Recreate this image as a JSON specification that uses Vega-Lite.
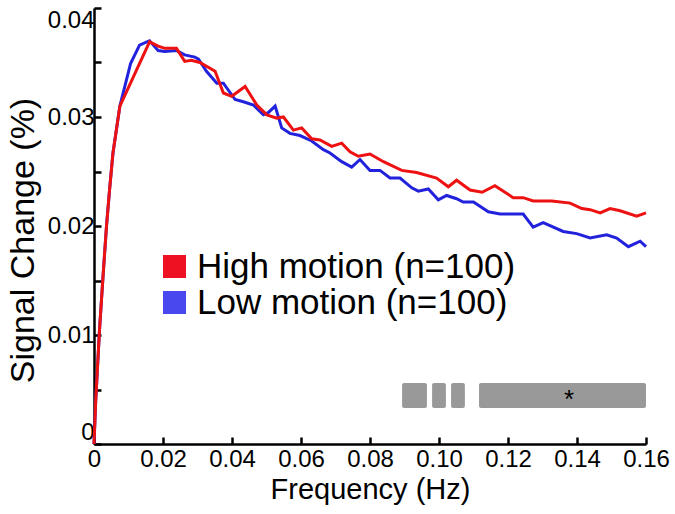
{
  "$schema": "https://vega.github.io/schema/vega-lite/v6.json",
  "width": 552,
  "height": 436,
  "autosize": {"type": "none"},
  "padding": {"left": 94, "top": 8, "right": 29, "bottom": 70},
  "background": "white",
  "config": {
    "font": "Liberation Sans",
    "view": {"stroke": null},
    "axis": {
      "grid": false,
      "domainColor": "black",
      "domainWidth": 2.5,
      "tickColor": "black",
      "tickWidth": 2.5,
      "tickSize": -7,
      "labelColor": "black",
      "titleColor": "black",
      "labelFont": "Liberation Sans",
      "titleFont": "Liberation Sans",
      "titleFontWeight": "normal",
      "labelFontSize": 24,
      "labelOverlap": false
    }
  },
  "datasets": {
    "curves": [
      {"series": "High motion (n=100)", "f": 0, "v": 0},
      {"series": "High motion (n=100)", "f": 0.0005, "v": 0.004},
      {"series": "High motion (n=100)", "f": 0.0016, "v": 0.0105},
      {"series": "High motion (n=100)", "f": 0.0026, "v": 0.0153},
      {"series": "High motion (n=100)", "f": 0.0036, "v": 0.0199},
      {"series": "High motion (n=100)", "f": 0.0045, "v": 0.0233},
      {"series": "High motion (n=100)", "f": 0.0055, "v": 0.0267},
      {"series": "High motion (n=100)", "f": 0.0075, "v": 0.031},
      {"series": "High motion (n=100)", "f": 0.0161, "v": 0.0369},
      {"series": "High motion (n=100)", "f": 0.0186, "v": 0.0365},
      {"series": "High motion (n=100)", "f": 0.0205, "v": 0.0363},
      {"series": "High motion (n=100)", "f": 0.0239, "v": 0.0363},
      {"series": "High motion (n=100)", "f": 0.0263, "v": 0.0351},
      {"series": "High motion (n=100)", "f": 0.0282, "v": 0.0352},
      {"series": "High motion (n=100)", "f": 0.0307, "v": 0.035},
      {"series": "High motion (n=100)", "f": 0.0351, "v": 0.0342},
      {"series": "High motion (n=100)", "f": 0.0375, "v": 0.0322},
      {"series": "High motion (n=100)", "f": 0.0399, "v": 0.0319},
      {"series": "High motion (n=100)", "f": 0.0438, "v": 0.0328},
      {"series": "High motion (n=100)", "f": 0.0472, "v": 0.0311},
      {"series": "High motion (n=100)", "f": 0.0501, "v": 0.0302},
      {"series": "High motion (n=100)", "f": 0.053, "v": 0.0299},
      {"series": "High motion (n=100)", "f": 0.0549, "v": 0.03},
      {"series": "High motion (n=100)", "f": 0.0578, "v": 0.0288},
      {"series": "High motion (n=100)", "f": 0.0602, "v": 0.029},
      {"series": "High motion (n=100)", "f": 0.0631, "v": 0.028},
      {"series": "High motion (n=100)", "f": 0.0655, "v": 0.0279},
      {"series": "High motion (n=100)", "f": 0.0689, "v": 0.0273},
      {"series": "High motion (n=100)", "f": 0.0718, "v": 0.0276},
      {"series": "High motion (n=100)", "f": 0.0742, "v": 0.0268},
      {"series": "High motion (n=100)", "f": 0.0766, "v": 0.0264},
      {"series": "High motion (n=100)", "f": 0.08, "v": 0.0266},
      {"series": "High motion (n=100)", "f": 0.0839, "v": 0.0259},
      {"series": "High motion (n=100)", "f": 0.0892, "v": 0.0251},
      {"series": "High motion (n=100)", "f": 0.0935, "v": 0.0249},
      {"series": "High motion (n=100)", "f": 0.0993, "v": 0.0244},
      {"series": "High motion (n=100)", "f": 0.1027, "v": 0.0236},
      {"series": "High motion (n=100)", "f": 0.1051, "v": 0.0242},
      {"series": "High motion (n=100)", "f": 0.109, "v": 0.0233},
      {"series": "High motion (n=100)", "f": 0.1125, "v": 0.0231},
      {"series": "High motion (n=100)", "f": 0.1162, "v": 0.0237},
      {"series": "High motion (n=100)", "f": 0.1215, "v": 0.0226},
      {"series": "High motion (n=100)", "f": 0.1244, "v": 0.0226},
      {"series": "High motion (n=100)", "f": 0.1273, "v": 0.0223},
      {"series": "High motion (n=100)", "f": 0.1327, "v": 0.0223},
      {"series": "High motion (n=100)", "f": 0.138, "v": 0.0221},
      {"series": "High motion (n=100)", "f": 0.1414, "v": 0.0216},
      {"series": "High motion (n=100)", "f": 0.1438, "v": 0.0215},
      {"series": "High motion (n=100)", "f": 0.1467, "v": 0.0212},
      {"series": "High motion (n=100)", "f": 0.1496, "v": 0.0216},
      {"series": "High motion (n=100)", "f": 0.1525, "v": 0.0214},
      {"series": "High motion (n=100)", "f": 0.1573, "v": 0.0209},
      {"series": "High motion (n=100)", "f": 0.16, "v": 0.0212},
      {"series": "Low motion (n=100)", "f": 0, "v": 0},
      {"series": "Low motion (n=100)", "f": 0.0005, "v": 0.004},
      {"series": "Low motion (n=100)", "f": 0.0016, "v": 0.0105},
      {"series": "Low motion (n=100)", "f": 0.0026, "v": 0.0153},
      {"series": "Low motion (n=100)", "f": 0.0036, "v": 0.0199},
      {"series": "Low motion (n=100)", "f": 0.0045, "v": 0.0233},
      {"series": "Low motion (n=100)", "f": 0.0055, "v": 0.0267},
      {"series": "Low motion (n=100)", "f": 0.0075, "v": 0.031},
      {"series": "Low motion (n=100)", "f": 0.0106, "v": 0.0349},
      {"series": "Low motion (n=100)", "f": 0.0132, "v": 0.0366},
      {"series": "Low motion (n=100)", "f": 0.0161, "v": 0.037},
      {"series": "Low motion (n=100)", "f": 0.0186, "v": 0.0361},
      {"series": "Low motion (n=100)", "f": 0.0205, "v": 0.036},
      {"series": "Low motion (n=100)", "f": 0.0239, "v": 0.0361},
      {"series": "Low motion (n=100)", "f": 0.0263, "v": 0.0357},
      {"series": "Low motion (n=100)", "f": 0.0292, "v": 0.0355},
      {"series": "Low motion (n=100)", "f": 0.0303, "v": 0.0353},
      {"series": "Low motion (n=100)", "f": 0.0326, "v": 0.0342},
      {"series": "Low motion (n=100)", "f": 0.0356, "v": 0.0331},
      {"series": "Low motion (n=100)", "f": 0.0375, "v": 0.0331},
      {"series": "Low motion (n=100)", "f": 0.0409, "v": 0.0316},
      {"series": "Low motion (n=100)", "f": 0.0433, "v": 0.0314},
      {"series": "Low motion (n=100)", "f": 0.0462, "v": 0.0311},
      {"series": "Low motion (n=100)", "f": 0.0491, "v": 0.0302},
      {"series": "Low motion (n=100)", "f": 0.0505, "v": 0.0304},
      {"series": "Low motion (n=100)", "f": 0.0525, "v": 0.031},
      {"series": "Low motion (n=100)", "f": 0.0544, "v": 0.029},
      {"series": "Low motion (n=100)", "f": 0.0568, "v": 0.0285},
      {"series": "Low motion (n=100)", "f": 0.0597, "v": 0.0283},
      {"series": "Low motion (n=100)", "f": 0.0631, "v": 0.0278},
      {"series": "Low motion (n=100)", "f": 0.0665, "v": 0.027},
      {"series": "Low motion (n=100)", "f": 0.0684, "v": 0.0267},
      {"series": "Low motion (n=100)", "f": 0.0718, "v": 0.0259},
      {"series": "Low motion (n=100)", "f": 0.0747, "v": 0.0254},
      {"series": "Low motion (n=100)", "f": 0.0771, "v": 0.0261},
      {"series": "Low motion (n=100)", "f": 0.08, "v": 0.0251},
      {"series": "Low motion (n=100)", "f": 0.0829, "v": 0.0251},
      {"series": "Low motion (n=100)", "f": 0.0858, "v": 0.0244},
      {"series": "Low motion (n=100)", "f": 0.0887, "v": 0.0244},
      {"series": "Low motion (n=100)", "f": 0.0921, "v": 0.0235},
      {"series": "Low motion (n=100)", "f": 0.094, "v": 0.0232},
      {"series": "Low motion (n=100)", "f": 0.0969, "v": 0.0234},
      {"series": "Low motion (n=100)", "f": 0.0998, "v": 0.0224},
      {"series": "Low motion (n=100)", "f": 0.1022, "v": 0.0228},
      {"series": "Low motion (n=100)", "f": 0.1051, "v": 0.0225},
      {"series": "Low motion (n=100)", "f": 0.107, "v": 0.0222},
      {"series": "Low motion (n=100)", "f": 0.11, "v": 0.0222},
      {"series": "Low motion (n=100)", "f": 0.1143, "v": 0.0213},
      {"series": "Low motion (n=100)", "f": 0.1177, "v": 0.0211},
      {"series": "Low motion (n=100)", "f": 0.1244, "v": 0.0211},
      {"series": "Low motion (n=100)", "f": 0.1273, "v": 0.0199},
      {"series": "Low motion (n=100)", "f": 0.1302, "v": 0.0203},
      {"series": "Low motion (n=100)", "f": 0.136, "v": 0.0195},
      {"series": "Low motion (n=100)", "f": 0.1399, "v": 0.0193},
      {"series": "Low motion (n=100)", "f": 0.1438, "v": 0.0189},
      {"series": "Low motion (n=100)", "f": 0.1486, "v": 0.0192},
      {"series": "Low motion (n=100)", "f": 0.1515, "v": 0.0189},
      {"series": "Low motion (n=100)", "f": 0.1549, "v": 0.0181},
      {"series": "Low motion (n=100)", "f": 0.1583, "v": 0.0186},
      {"series": "Low motion (n=100)", "f": 0.16, "v": 0.0181}
    ],
    "sig": [
      {"f0": 0.0893, "f1": 0.0965, "v0": 0.0033, "v1": 0.0056},
      {"f0": 0.098, "f1": 0.102, "v0": 0.0033, "v1": 0.0056},
      {"f0": 0.1035, "f1": 0.1075, "v0": 0.0033, "v1": 0.0056},
      {"f0": 0.1116, "f1": 0.16, "v0": 0.0033, "v1": 0.0056}
    ],
    "star": [
      {"f": 0.1377, "v": 0.0045, "label": "*"}
    ]
  },
  "layer": [
    {
      "data": {"name": "sig"},
      "mark": {"type": "rect", "color": "#999999", "cornerRadius": 2},
      "encoding": {
        "x": {"field": "f0", "type": "quantitative", "scale": {"domain": [0, 0.16]}},
        "x2": {"field": "f1"},
        "y": {"field": "v0", "type": "quantitative", "scale": {"domain": [0, 0.04]}},
        "y2": {"field": "v1"}
      }
    },
    {
      "data": {"name": "star"},
      "mark": {"type": "text", "fontSize": 26, "color": "black", "baseline": "middle", "dy": 5},
      "encoding": {
        "x": {"field": "f", "type": "quantitative"},
        "y": {"field": "v", "type": "quantitative"},
        "text": {"field": "label"}
      }
    },
    {
      "data": {"name": "curves"},
      "transform": [{"filter": "datum.series == 'Low motion (n=100)'"}],
      "mark": {"type": "line", "strokeWidth": 3},
      "encoding": {
        "x": {"field": "f", "type": "quantitative"},
        "y": {"field": "v", "type": "quantitative"},
        "color": {"field": "series", "type": "nominal"}
      }
    },
    {
      "data": {"name": "curves"},
      "transform": [{"filter": "datum.series == 'High motion (n=100)'"}],
      "mark": {"type": "line", "strokeWidth": 3},
      "encoding": {
        "x": {
          "field": "f", "type": "quantitative",
          "scale": {"domain": [0, 0.16], "nice": false},
          "axis": {
            "title": "Frequency (Hz)",
            "titleFontSize": 29,
            "titleY": 54,
            "titleBaseline": "alphabetic",
            "values": [0, 0.02, 0.04, 0.06, 0.08, 0.1, 0.12, 0.14, 0.16],
            "labelExpr": "datum.value == 0 ? '0' : format(datum.value, '.2f')",
            "labelFlush": false,
            "labelPadding": 10
          }
        },
        "y": {
          "field": "v", "type": "quantitative",
          "scale": {"domain": [0, 0.04], "nice": false},
          "axis": {
            "title": "Signal Change (%)",
            "titleFontSize": 34,
            "titleX": -61,
            "titleY": 232,
            "titleBaseline": "alphabetic",
            "values": [0, 0.005, 0.01, 0.015, 0.02, 0.025, 0.03, 0.035, 0.04],
            "labelExpr": "round(datum.value * 1000) % 10 == 0 ? (datum.value == 0 ? '0' : format(datum.value, '.2f')) : ''",
            "labelFlush": true,
            "labelPadding": 7
          }
        },
        "color": {
          "field": "series", "type": "nominal",
          "scale": {"domain": ["High motion (n=100)", "Low motion (n=100)"], "range": ["#ee1111", "#2222dd"]},
          "legend": {
            "title": null,
            "orient": "none",
            "legendX": 63,
            "legendY": 241,
            "padding": 0,
            "symbolType": "square",
            "symbolSize": 529,
            "labelFontSize": 35,
            "labelFont": "Liberation Sans",
            "labelColor": "black",
            "labelOffset": 5,
            "rowPadding": 0,
            "labelLimit": 500,
            "encode": {
              "symbols": {
                "update": {
                  "fill": {"signal": "datum.value == 'High motion (n=100)' ? '#ee1122' : '#4848ee'"},
                  "stroke": {"value": "transparent"},
                  "strokeWidth": {"value": 0},
                  "opacity": {"value": 1}
                }
              }
            }
          }
        }
      }
    }
  ]
}
